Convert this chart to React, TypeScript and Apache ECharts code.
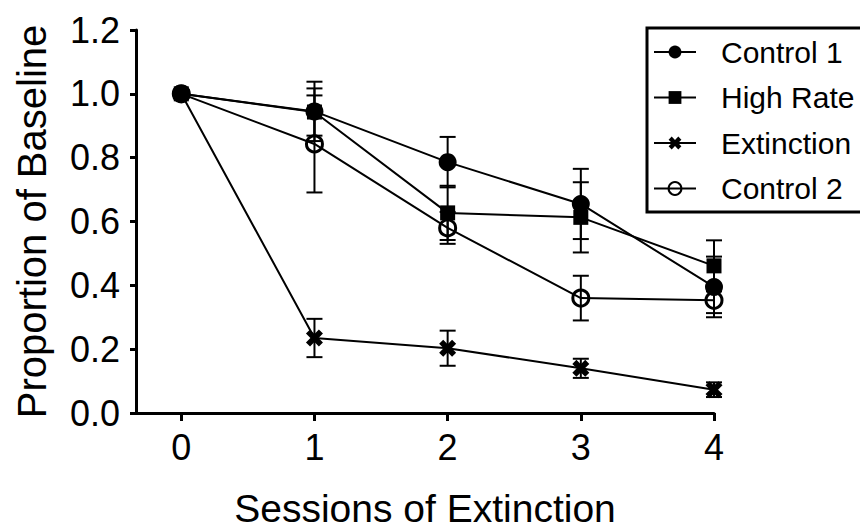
import React, { useEffect, useRef } from "react";
import * as echarts from "echarts";

const sessions = [0, 1, 2, 3, 4];
const seriesNames = ["Control 1", "High Rate", "Extinction", "Control 2"];
const control1 = [1.0, 0.945, 0.786, 0.655, 0.395];
const control1Err = [0, 0.093, 0.079, 0.11, 0.095];
const highRate = [1.0, 0.943, 0.627, 0.613, 0.461];
const highRateErr = [0, 0.074, 0.085, 0.11, 0.08];
const extinction = [1.0, 0.235, 0.203, 0.14, 0.073];
const extinctionErr = [0, 0.06, 0.055, 0.03, 0.023];
const control2 = [1.0, 0.843, 0.58, 0.36, 0.353];
const control2Err = [0, 0.152, 0.05, 0.07, 0.04];
const yTicks = [0, 0.2, 0.4, 0.6, 0.8, 1.0, 1.2];

const FONT = "'Liberation Sans', Arial, Helvetica, sans-serif";
const CROSS =
  "path://M0,2.4L2.4,0L5,2.6L7.6,0L10,2.4L7.4,5L10,7.6L7.6,10L5,7.4L2.4,10L0,7.6L2.6,5Z";

function errData(vals: number[], errs: number[]) {
  return sessions
    .map((s, i) => [s, vals[i] - errs[i], vals[i] + errs[i], errs[i]])
    .filter((d) => d[3] > 0);
}

function errSeries(name: string, vals: number[], errs: number[]) {
  return {
    name: name + " SEM",
    type: "custom",
    z: 1,
    silent: true,
    encode: { x: 0, y: [1, 2] },
    data: errData(vals, errs),
    renderItem: (params: any, api: any) => {
      const x = api.value(0);
      const top = api.coord([x, api.value(2)]);
      const bot = api.coord([x, api.value(1)]);
      const w = 8;
      const st = { stroke: "#000", lineWidth: 2 };
      return {
        type: "group",
        children: [
          { type: "line", shape: { x1: top[0], y1: top[1], x2: bot[0], y2: bot[1] }, style: st },
          { type: "line", shape: { x1: top[0] - w, y1: top[1], x2: top[0] + w, y2: top[1] }, style: st },
          { type: "line", shape: { x1: bot[0] - w, y1: bot[1], x2: bot[0] + w, y2: bot[1] }, style: st },
        ],
      };
    },
  };
}

function lineSeries(name: string, vals: number[], symbol: string, size: number, item: any) {
  return {
    name,
    type: "line",
    z: 3,
    data: sessions.map((s, i) => [s, vals[i]]),
    symbol,
    symbolSize: size,
    showAllSymbol: true,
    lineStyle: { color: "#000", width: 2 },
    itemStyle: item,
    emphasis: { disabled: true },
  };
}

export default function App() {
  const ref = useRef<HTMLDivElement>(null);
  useEffect(() => {
    document.body.style.margin = "0";
    if (!ref.current) return;
    const chart = echarts.init(ref.current, undefined, { renderer: "svg" });
    chart.setOption({
      animation: false,
      backgroundColor: "#fff",
      textStyle: { fontFamily: FONT, color: "#000" },
      grid: { left: 136, right: 146, top: 30, bottom: 116, containLabel: false, outerBoundsMode: "none" },
      graphic: [
        {
          type: "rect",
          shape: { x: 647, y: 28, width: 260, height: 184 },
          style: { fill: "none", stroke: "#000", lineWidth: 3 },
          silent: true,
          z: 5,
        },
      ],
      legend: {
        data: seriesNames,
        orient: "vertical",
        left: 647,
        top: 28,
        padding: [9, 0, 8, 6],
        itemGap: 15.5,
        itemWidth: 42,
        itemHeight: 16,
        borderWidth: 0,
        selectedMode: false,
        textStyle: { fontFamily: FONT, fontSize: 30, color: "#000", lineHeight: 30, padding: [0, 0, 0, 20] },
      },
      xAxis: {
        type: "value",
        min: -0.34,
        max: 4,
        name: "Sessions of Extinction",
        nameLocation: "middle",
        nameGap: 76,
        nameTextStyle: { fontFamily: FONT, fontSize: 39, color: "#000" },
        axisLine: { show: true, onZero: false, lineStyle: { color: "#000", width: 3 } },
        axisTick: { show: true, customValues: sessions, length: 8, lineStyle: { color: "#000", width: 3 } },
        axisLabel: { customValues: sessions, fontFamily: FONT, fontSize: 36, color: "#000", margin: 16 },
        splitLine: { show: false },
      },
      yAxis: {
        type: "value",
        min: 0,
        max: 1.2,
        interval: 0.2,
        name: "Proportion of Baseline",
        nameLocation: "middle",
        nameGap: 84,
        nameTextStyle: { fontFamily: FONT, fontSize: 40, color: "#000" },
        axisLine: { show: true, onZero: false, lineStyle: { color: "#000", width: 3 } },
        axisTick: { show: true, customValues: yTicks, length: 6, lineStyle: { color: "#000", width: 3 } },
        axisLabel: {
          customValues: yTicks,
          fontFamily: FONT,
          fontSize: 36,
          color: "#000",
          margin: 16,
          formatter: (v: number) => v.toFixed(1),
        },
        splitLine: { show: false },
      },
      series: [
        errSeries("Control 1", control1, control1Err),
        errSeries("High Rate", highRate, highRateErr),
        errSeries("Extinction", extinction, extinctionErr),
        errSeries("Control 2", control2, control2Err),
        lineSeries("Control 1", control1, "circle", 18, { color: "#000" }),
        lineSeries("High Rate", highRate, "rect", 15, { color: "#000" }),
        lineSeries("Extinction", extinction, CROSS, 17, { color: "#000" }),
        lineSeries("Control 2", control2, "circle", 16, {
          color: "rgba(255,255,255,0)",
          borderColor: "#000",
          borderWidth: 3,
        }),
      ],
    });
    return () => chart.dispose();
  }, []);
  return <div ref={ref} style={{ width: 860, height: 529 }} />;
}
